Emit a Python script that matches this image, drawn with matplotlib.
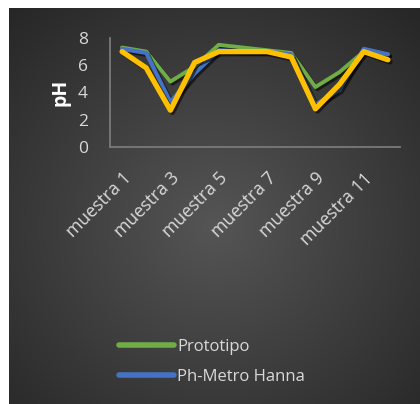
import numpy as np
import matplotlib
matplotlib.use("Agg")
import matplotlib.pyplot as plt
import matplotlib.patheffects as pe
from matplotlib.lines import Line2D

categories = [f"muestra {i}" for i in range(1, 13)]
prototipo = [7.3, 7.0, 4.8, 5.9, 7.5, 7.3, 7.1, 6.9, 4.4, 5.5, 7.0, 6.8]
hanna = [7.2, 6.9, 3.3, 5.4, 7.1, 7.0, 7.0, 6.8, 3.1, 4.2, 7.2, 6.8]
tercera = [7.0, 5.8, 2.7, 6.2, 7.0, 7.0, 7.0, 6.6, 2.8, 4.6, 7.0, 6.4]
yticks = [0, 2, 4, 6, 8]

W, H = 420, 404
fig = plt.figure(figsize=(W / 100, H / 100), dpi=100)
fig.patch.set_facecolor("white")

# background gradient panel
bg = fig.add_axes([9 / W, 0, (W - 9) / W, (H - 8) / H])
bg.set_axis_off()
ny, nx = 200, 200
yy, xx = np.mgrid[0:1:ny * 1j, 0:1:nx * 1j]
r = np.sqrt((xx - 0.5) ** 2 + (yy - 0.45) ** 2) / 0.75
r = np.clip(r, 0, 1)
c_in = np.array([0x55, 0x55, 0x55]) / 255
c_out = np.array([0x26, 0x26, 0x26]) / 255
img = c_in[None, None, :] * (1 - r[..., None]) + c_out[None, None, :] * r[..., None]
bg.imshow(img, aspect="auto", extent=[0, 1, 0, 1], origin="lower")
bg.set_xlim(0, 1)
bg.set_ylim(0, 1)

ax = fig.add_axes([110 / W, 1 - 147 / H, 290 / W, 109 / H])
ax.set_facecolor("none")
x = np.arange(len(categories))
shadow = [pe.SimpleLineShadow(offset=(1.5, -1.5), shadow_color="black", alpha=0.55), pe.Normal()]
ax.plot(x, prototipo, color="#70AD47", lw=2.8, solid_capstyle="round", solid_joinstyle="round",
        path_effects=shadow, label="Prototipo", zorder=3)
ax.plot(x, hanna, color="#4472C4", lw=3.0, solid_capstyle="round", solid_joinstyle="round",
        path_effects=shadow, label="Ph-Metro Hanna", zorder=4)
ax.plot(x, tercera, color="#FFC000", lw=3.8, solid_capstyle="round", solid_joinstyle="round",
        path_effects=shadow, zorder=5)

ax.set_xlim(-0.5, len(categories) - 0.5)
ax.set_ylim(0, 8)
ax.set_yticks(yticks)
ax.set_yticklabels([str(t) for t in yticks])
ax.set_xticks(x[::2])
ax.set_xticklabels(categories[::2], rotation=45, ha="right", rotation_mode="anchor")

font = "Open Sans"
for lab in ax.get_yticklabels():
    lab.set_fontfamily(font)
    lab.set_fontsize(12.5)
    lab.set_color("#d9d9d9")
for lab in ax.get_xticklabels():
    lab.set_fontfamily(font)
    lab.set_fontsize(12.8)
    lab.set_color("#d9d9d9")
ax.tick_params(axis="both", length=0)
ax.tick_params(axis="y", pad=16)
ax.tick_params(axis="x", pad=16)
for s in ["top", "right"]:
    ax.spines[s].set_visible(False)
for s in ["left", "bottom"]:
    ax.spines[s].set_color("#7a7a7a")
    ax.spines[s].set_linewidth(1.3)

ax.set_ylabel("pH", fontfamily=font, fontweight="bold", fontsize=14, color="white", labelpad=5)

h2 = [Line2D([0], [0], color="#70AD47", lw=4, solid_capstyle="round"),
      Line2D([0], [0], color="#4472C4", lw=4, solid_capstyle="round")]
leg = fig.legend(h2, ["Prototipo", "Ph-Metro Hanna"], loc="upper left",
                 bbox_to_anchor=(104 / W, 1 - 324 / H), frameon=False,
                 handlelength=3.3, handletextpad=0.2, labelspacing=0.85,
                 prop={"family": font, "size": 12})
for t in leg.get_texts():
    t.set_color("#d9d9d9")

fig.savefig("out.png", dpi=100)
